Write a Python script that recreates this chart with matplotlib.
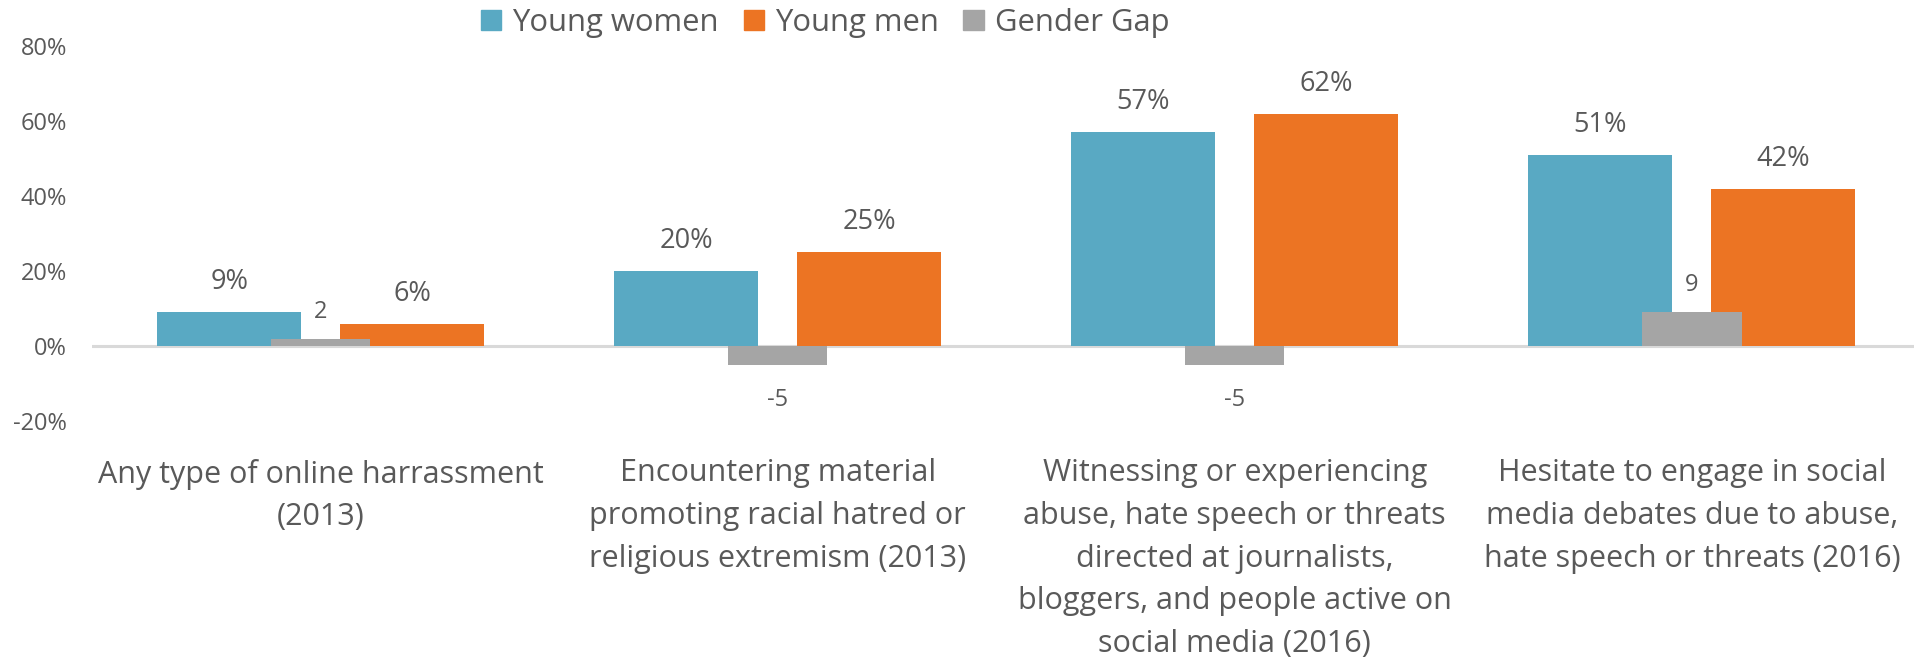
import matplotlib
matplotlib.use("Agg")
import matplotlib.pyplot as plt
from matplotlib.patches import Patch
import numpy as np

plt.rcParams['font.family'] = ['Open Sans', 'DejaVu Sans']

categories = [
    "Any type of online harrassment\n(2013)",
    "Encountering material\npromoting racial hatred or\nreligious extremism (2013)",
    "Witnessing or experiencing\nabuse, hate speech or threats\ndirected at journalists,\nbloggers, and people active on\nsocial media (2016)",
    "Hesitate to engage in social\nmedia debates due to abuse,\nhate speech or threats (2016)",
]
young_women = [9, 20, 57, 51]
young_men = [6, 25, 62, 42]
gender_gap = [2, -5, -5, 9]
yticks = [-20, 0, 20, 40, 60, 80]
series_names = ["Young women", "Young men", "Gender Gap"]

C_W = "#59A9C3"
C_M = "#EC7423"
C_G = "#A5A5A5"
TXT = "#595959"

W, H = 1915, 669
fig = plt.figure(figsize=(W / 100, H / 100), dpi=100)
ax = fig.add_axes([92 / W, (H - 421) / H, (1920.4 - 92) / W, (421 - 46) / H])

x = np.arange(len(categories))
bw = 0.315
off = 0.200
gw = 0.2176

ax.axhline(0, color="#D9D9D9", lw=2.2, zorder=1)
ax.bar(x - off, young_women, width=bw, color=C_W, zorder=2)
ax.bar(x + off, young_men, width=bw, color=C_M, zorder=2)
ax.bar(x, gender_gap, width=gw, color=C_G, zorder=3)

for xi, v in zip(x - off, young_women):
    ax.annotate(f"{v}%", (xi, v), xytext=(0, 16.5), textcoords="offset points",
                ha="center", va="baseline", fontsize=19.5, color=TXT)
for xi, v in zip(x + off, young_men):
    ax.annotate(f"{v}%", (xi, v), xytext=(0, 16.5), textcoords="offset points",
                ha="center", va="baseline", fontsize=19.5, color=TXT)
for xi, v in zip(x, gender_gap):
    if v >= 0:
        ax.annotate(f"{v}", (xi, v), xytext=(0, 15), textcoords="offset points",
                    ha="center", va="baseline", fontsize=17, color=TXT)
    else:
        ax.annotate(f"{v}", (xi, v), xytext=(0, -17), textcoords="offset points",
                    ha="center", va="top", fontsize=17, color=TXT)

ax.set_xlim(-0.5, len(categories) - 0.5)
ax.set_ylim(-20, 80)
ax.set_yticks(yticks)
ax.set_yticklabels([f"{t}%" for t in yticks], fontsize=17, color=TXT)
ax.set_xticks(x)
ax.set_xticklabels(categories, fontsize=22, color=TXT, linespacing=1.55, va="top")
ax.tick_params(axis="y", length=0, pad=18)
ax.tick_params(axis="x", length=0, pad=27)
for s in ax.spines.values():
    s.set_visible(False)

handles = [Patch(color=C_W), Patch(color=C_M), Patch(color=C_G)]
leg = fig.legend(handles, series_names, loc="center left",
                 bbox_to_anchor=(481 / W, 1 - 23 / H), bbox_transform=fig.transFigure,
                 ncol=3, frameon=False, fontsize=22.3, borderpad=0, borderaxespad=0,
                 handlelength=0.65, handleheight=0.65, handletextpad=0.36,
                 columnspacing=0.8)
for t in leg.get_texts():
    t.set_color(TXT)

fig.savefig("out.png", dpi=100)
